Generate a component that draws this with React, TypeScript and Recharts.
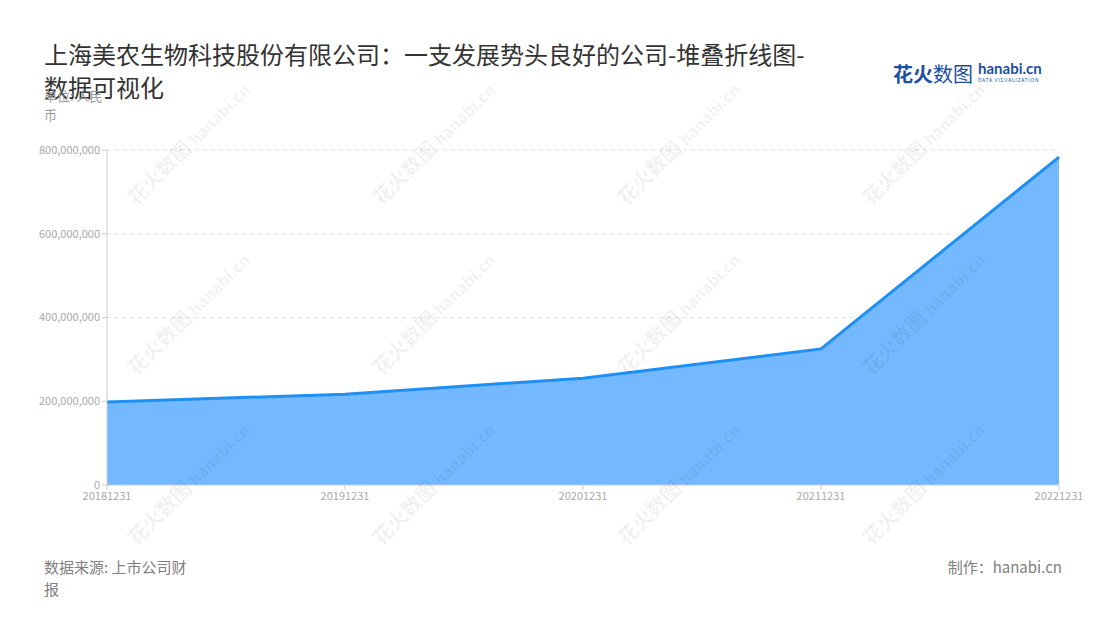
import { Area, AreaChart, CartesianGrid, XAxis, YAxis } from "recharts";

// 报告期与营收（人民币）
const periods = ["20181231", "20191231", "20201231", "20211231", "20221231"];
const revenue = [198000000, 217000000, 255000000, 325000000, 783000000];
const yTicks = [0, 200000000, 400000000, 600000000, 800000000];

const data = periods.map((p, i) => ({ period: p, value: revenue[i] }));

const fmtNum = (v: number) => v.toLocaleString("en-US");

const FONT = '"Noto Sans CJK SC", "Noto Sans", sans-serif';

// 水印位置
const marks = [
  [120, 120], [365, 120], [610, 120], [855, 120],
  [120, 290], [365, 290], [610, 290], [855, 290],
  [120, 460], [365, 460], [610, 460], [855, 460],
];

function Watermark({ x, y }: { x: number; y: number }) {
  return (
    <div
      style={{
        position: "absolute",
        left: x,
        top: y,
        transform: "rotate(-45deg)",
        transformOrigin: "left top",
        color: "rgba(0,0,0,0.06)",
        fontSize: 20,
        fontWeight: 700,
        whiteSpace: "nowrap",
        pointerEvents: "none",
        fontFamily: FONT,
      }}
    >
      花火数图 <span style={{ fontSize: 16 }}>hanabi.cn</span>
    </div>
  );
}

export default function App() {
  return (
    <div
      style={{
        position: "fixed",
        left: 0,
        top: 0,
        width: 1100,
        height: 620,
        background: "#fff",
        fontFamily: FONT,
        overflow: "hidden",
      }}
    >
      <AreaChart
        width={1100}
        height={620}
        data={data}
        margin={{ top: 150, right: 41, bottom: 105, left: 0 }}
      >
        <CartesianGrid strokeDasharray="4 4" stroke="#e3e3e3" vertical={false} />
        <XAxis
          dataKey="period"
          tick={{ fontSize: 11, fill: "#aaa" }}
          axisLine={{ stroke: "#ccc" }}
          tickLine={{ stroke: "#ccc" }}
          tickSize={5}
          interval={0}
        />
        <YAxis
          domain={[0, 800000000]}
          ticks={yTicks}
          tickFormatter={fmtNum}
          tick={{ fontSize: 11, fill: "#aaa" }}
          axisLine={{ stroke: "#ccc" }}
          tickLine={{ stroke: "#ccc" }}
          tickSize={5}
          width={107}
        />
        <Area
          type="linear"
          dataKey="value"
          stroke="#1e8ff5"
          strokeWidth={3}
          fill="#74b9ff"
          fillOpacity={1}
          isAnimationActive={false}
          dot={false}
          activeDot={false}
        />
      </AreaChart>

      {marks.map(([x, y], i) => (
        <Watermark key={i} x={x} y={y + 70} />
      ))}

      <div
        style={{
          position: "absolute",
          left: 44,
          top: 37,
          width: 770,
          fontSize: 24,
          lineHeight: "33px",
          color: "#333",
        }}
      >
        上海美农生物科技股份有限公司：一支发展势头良好的公司-堆叠折线图-数据可视化
      </div>
      <div
        style={{
          position: "absolute",
          left: 44,
          top: 86,
          width: 68,
          fontSize: 13,
          lineHeight: "19px",
          color: "#999",
        }}
      >
        单位: 人民币
      </div>

      <div style={{ position: "absolute", left: 893, top: 59, whiteSpace: "nowrap" }}>
        <span style={{ fontSize: 20, fontWeight: 700, color: "#1d4f9e" }}>花火</span>
        <span style={{ fontSize: 20, color: "#1d4f9e" }}>数图</span>
        <span
          style={{
            display: "inline-block",
            marginLeft: 5,
            verticalAlign: "top",
            lineHeight: 1,
            marginTop: 2,
          }}
        >
          <span style={{ display: "block", fontSize: 15, fontWeight: 700, color: "#1d4f9e", fontFamily: "Lato, sans-serif" }}>
            hanabi.cn
          </span>
          <span style={{ display: "block", fontSize: 5, color: "#1d4f9e", letterSpacing: 0.7, marginTop: 1 }}>
            DATA VISUALIZATION
          </span>
        </span>
      </div>

      <div
        style={{
          position: "absolute",
          left: 44,
          top: 556,
          width: 155,
          fontSize: 15,
          lineHeight: "22px",
          color: "#808080",
        }}
      >
        数据来源: 上市公司财报
      </div>
      <div
        style={{
          position: "absolute",
          right: 38,
          top: 556,
          fontSize: 15,
          lineHeight: "22px",
          color: "#808080",
        }}
      >
        制作：hanabi.cn
      </div>
    </div>
  );
}
